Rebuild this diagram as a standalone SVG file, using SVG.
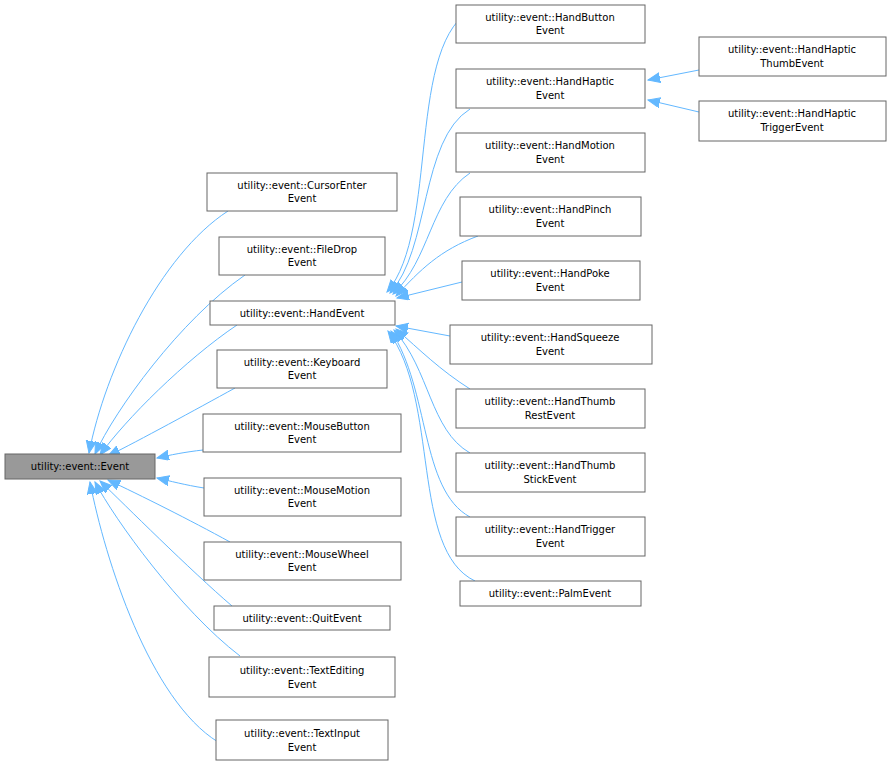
<svg xmlns="http://www.w3.org/2000/svg" width="893" height="767" viewBox="0 0 893 767">
<style>
.n rect{fill:#fff;stroke:#666;stroke-width:1}
.r rect{fill:#999;stroke:#666}
text{font-family:"DejaVu Sans",sans-serif;font-size:10px;fill:#000;text-anchor:middle}
.e path{fill:none;stroke:#63b8ff;stroke-width:1;marker-end:url(#a)}
</style>
<defs><marker id="a" markerUnits="userSpaceOnUse" markerWidth="14" markerHeight="12" refX="12" refY="5" orient="auto"><path d="M0,0 L12,5 L0,10 Z" fill="#63b8ff" stroke="#63b8ff"/></marker></defs>
<rect width="893" height="767" fill="#fff"/>
<g class="e">
<path d="M228,211 C160,255 105,370 89,453"/>
<path d="M245,275 C180,320 115,410 95,454"/>
<path d="M237,325 C185,360 125,420 100,455"/>
<path d="M235,388 C195,410 140,440 108,456"/>
<path d="M203,450 C185,452 170,455 157,458"/>
<path d="M204,488 C185,485 170,481 157,478"/>
<path d="M230,542 C190,520 140,495 108,480"/>
<path d="M232,606 C190,570 125,505 100,481"/>
<path d="M240,656 C180,610 115,520 95,482"/>
<path d="M218,742 C150,700 105,560 90,482"/>
<path d="M475,8 C405,40 440,230 387,292"/>
<path d="M470,109 C420,140 430,250 390,293"/>
<path d="M470,173 C430,200 430,260 393,294"/>
<path d="M478,236 C440,250 420,270 396,296"/>
<path d="M462,282 L397,298"/>
<path d="M450,336 L396,326"/>
<path d="M470,389 C440,370 420,350 396,329"/>
<path d="M470,453 C430,430 430,370 394,330"/>
<path d="M470,517 C420,490 430,390 391,331"/>
<path d="M475,581 C410,550 440,400 388,331"/>
<path d="M699,70 L648,80"/>
<path d="M699,112 L648,100"/>
</g>
<g id="Event" class="r"><rect x="5" y="454" width="150" height="25"/><text x="80" y="470">utility::event::Event</text></g>
<g id="CursorEnter" class="n"><rect x="207" y="173" width="190" height="38"/><text x="302" y="189">utility::event::CursorEnter</text><text x="302" y="202">Event</text></g>
<g id="FileDrop" class="n"><rect x="219" y="237" width="166" height="38"/><text x="302" y="253">utility::event::FileDrop</text><text x="302" y="266">Event</text></g>
<g id="HandEvent" class="n"><rect x="210" y="301" width="185" height="24"/><text x="302" y="317">utility::event::HandEvent</text></g>
<g id="Keyboard" class="n"><rect x="217" y="350" width="170" height="38"/><text x="302" y="366">utility::event::Keyboard</text><text x="302" y="379">Event</text></g>
<g id="MouseButton" class="n"><rect x="203" y="414" width="198" height="38"/><text x="302" y="430">utility::event::MouseButton</text><text x="302" y="443">Event</text></g>
<g id="MouseMotion" class="n"><rect x="204" y="478" width="197" height="38"/><text x="302" y="494">utility::event::MouseMotion</text><text x="302" y="507">Event</text></g>
<g id="MouseWheel" class="n"><rect x="204" y="542" width="197" height="38"/><text x="302" y="558">utility::event::MouseWheel</text><text x="302" y="571">Event</text></g>
<g id="QuitEvent" class="n"><rect x="214" y="606" width="176" height="24"/><text x="302" y="622">utility::event::QuitEvent</text></g>
<g id="TextEditing" class="n"><rect x="209" y="657" width="186" height="40"/><text x="302" y="674">utility::event::TextEditing</text><text x="302" y="688">Event</text></g>
<g id="TextInput" class="n"><rect x="216" y="720" width="172" height="40"/><text x="302" y="737">utility::event::TextInput</text><text x="302" y="751">Event</text></g>
<g id="HandButton" class="n"><rect x="456" y="5" width="189" height="38"/><text x="550" y="21">utility::event::HandButton</text><text x="550" y="34">Event</text></g>
<g id="HandHaptic" class="n"><rect x="456" y="69" width="189" height="39"/><text x="550" y="85">utility::event::HandHaptic</text><text x="550" y="99">Event</text></g>
<g id="HandMotion" class="n"><rect x="456" y="133" width="189" height="39"/><text x="550" y="149">utility::event::HandMotion</text><text x="550" y="163">Event</text></g>
<g id="HandPinch" class="n"><rect x="460" y="197" width="181" height="39"/><text x="550" y="213">utility::event::HandPinch</text><text x="550" y="227">Event</text></g>
<g id="HandPoke" class="n"><rect x="462" y="261" width="178" height="39"/><text x="550" y="277">utility::event::HandPoke</text><text x="550" y="291">Event</text></g>
<g id="HandSqueeze" class="n"><rect x="450" y="325" width="202" height="39"/><text x="550" y="341">utility::event::HandSqueeze</text><text x="550" y="355">Event</text></g>
<g id="HandThumbRest" class="n"><rect x="456" y="389" width="189" height="39"/><text x="550" y="405">utility::event::HandThumb</text><text x="550" y="419">RestEvent</text></g>
<g id="HandThumbStick" class="n"><rect x="456" y="453" width="189" height="39"/><text x="550" y="469">utility::event::HandThumb</text><text x="550" y="483">StickEvent</text></g>
<g id="HandTrigger" class="n"><rect x="456" y="517" width="189" height="39"/><text x="550" y="533">utility::event::HandTrigger</text><text x="550" y="547">Event</text></g>
<g id="PalmEvent" class="n"><rect x="460" y="581" width="181" height="25"/><text x="550" y="597">utility::event::PalmEvent</text></g>
<g id="HandHapticThumb" class="n"><rect x="699" y="37" width="187" height="39"/><text x="792" y="53">utility::event::HandHaptic</text><text x="792" y="67">ThumbEvent</text></g>
<g id="HandHapticTrigger" class="n"><rect x="699" y="101" width="187" height="40"/><text x="792" y="117">utility::event::HandHaptic</text><text x="792" y="131">TriggerEvent</text></g>
</svg>
